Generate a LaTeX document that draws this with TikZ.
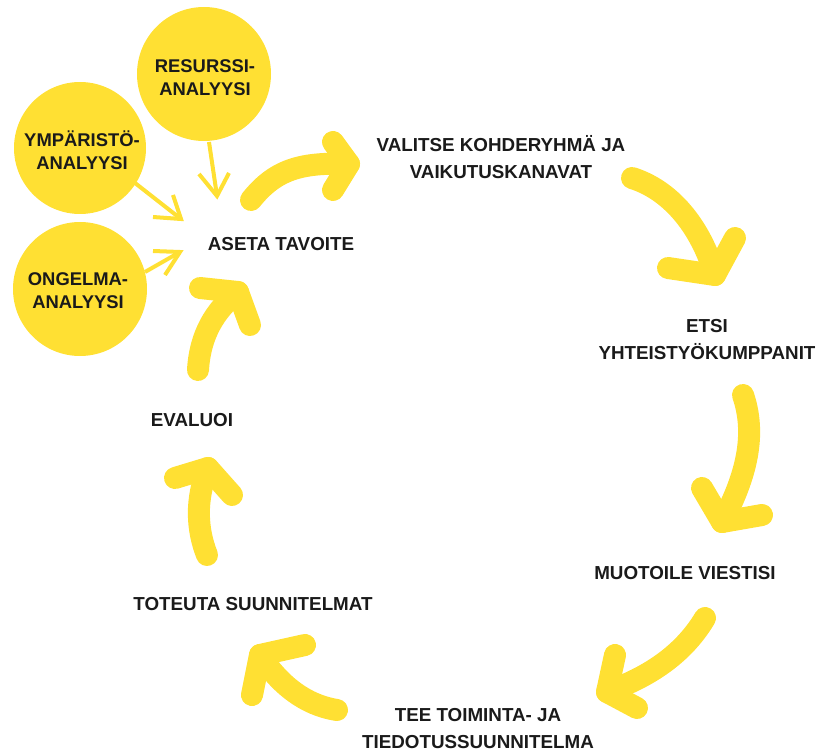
\documentclass[tikz,border=0pt]{standalone}
\usepackage{fontspec}
\setmainfont{Liberation Sans}
\definecolor{sun}{HTML}{FFE033}
\definecolor{ink}{HTML}{1A1A1A}
\begin{document}
\begin{tikzpicture}[x=1pt,y=-1pt,
  lbl/.style={font=\fontsize{18.8}{27}\selectfont\bfseries, text=ink, align=center, inner sep=0pt},
  clbl/.style={font=\fontsize{18.4}{23}\selectfont\bfseries, text=ink, align=center, inner sep=0pt},
  bubble/.style={circle, fill=sun, inner sep=0pt, minimum size=#1},
  bigarrow/.style={draw=sun, line width=22pt, line cap=round, line join=round},
  thinarrow/.style={draw=sun, line width=4pt, line join=miter}
]
\useasboundingbox (0,0) rectangle (830,751);

% analysis bubbles
\node[bubble=134pt] (resC) at (204,74) {};
\node[bubble=132pt] (ympC) at (80,148) {};
\node[bubble=134pt] (ongC) at (80,289) {};
\node[clbl] (resT) at (205,78) {RESURSSI-\\ANALYYSI};
\node[clbl] (ympT) at (82,150) {YMPÄRISTÖ-\\ANALYYSI};
\node[clbl] (ongT) at (78,291) {ONGELMA-\\ANALYYSI};

% step labels
\node[lbl] (aseta) at (281,244) {ASETA TAVOITE};
\node[lbl] (valitse) at (501,157) {VALITSE KOHDERYHMÄ JA\\VAIKUTUSKANAVAT};
\node[lbl] (etsi) at (707,340) {ETSI\\YHTEISTYÖKUMPPANIT};
\node[lbl] (muotoile) at (685,573) {MUOTOILE VIESTISI};
\node[lbl] (tee) at (478,729) {TEE TOIMINTA- JA\\TIEDOTUSSUUNNITELMA};
\node[lbl] (toteuta) at (253,604) {TOTEUTA SUUNNITELMAT};
\node[lbl] (evaluoi) at (192,420) {EVALUOI};

% thin arrows from bubbles
\coordinate (r0) at (209,142); \coordinate (r1) at (217,196);
\coordinate (ra) at (199,174); \coordinate (rb) at (229,173);
\draw[thinarrow] (r0) -- (r1);
\draw[thinarrow] (ra) -- (r1) -- (rb);

\coordinate (y0) at (135,183); \coordinate (y1) at (181,219);
\coordinate (ya) at (173,195); \coordinate (yb) at (153,217);
\draw[thinarrow] (y0) -- (y1);
\draw[thinarrow] (ya) -- (y1) -- (yb);

\coordinate (o0) at (145,272); \coordinate (o1) at (180,252);
\coordinate (oa) at (153,251); \coordinate (ob) at (165,275);
\draw[thinarrow] (o0) -- (o1);
\draw[thinarrow] (oa) -- (o1) -- (ob);

% cycle arrows
\coordinate (a1s) at (251,200); \coordinate (a1t) at (349,164);
\coordinate (a1a) at (333,142); \coordinate (a1b) at (333,190);
\draw[bigarrow] (a1s) .. controls (275,170) and (300,162) .. (a1t);
\draw[bigarrow] (a1a) -- (a1t) -- (a1b);

\coordinate (a2s) at (632,178); \coordinate (a2t) at (715,275);
\coordinate (a2a) at (668,268); \coordinate (a2b) at (735,238);
\draw[bigarrow] (a2s) .. controls (670,190) and (700,225) .. (a2t);
\draw[bigarrow] (a2a) -- (a2t) -- (a2b);

\coordinate (a3s) at (743,395); \coordinate (a3t) at (722,522);
\coordinate (a3a) at (702,488); \coordinate (a3b) at (762,515);
\draw[bigarrow] (a3s) .. controls (755,430) and (750,470) .. (a3t);
\draw[bigarrow] (a3a) -- (a3t) -- (a3b);

\coordinate (a4s) at (705,618); \coordinate (a4t) at (607,692);
\coordinate (a4a) at (615,655); \coordinate (a4b) at (637,708);
\draw[bigarrow] (a4s) .. controls (680,660) and (640,680) .. (a4t);
\draw[bigarrow] (a4a) -- (a4t) -- (a4b);

\coordinate (a5s) at (337,710); \coordinate (a5t) at (260,655);
\coordinate (a5a) at (305,645); \coordinate (a5b) at (252,695);
\draw[bigarrow] (a5s) .. controls (305,705) and (280,685) .. (a5t);
\draw[bigarrow] (a5a) -- (a5t) -- (a5b);

\coordinate (a6s) at (207,555); \coordinate (a6t) at (208,468);
\coordinate (a6a) at (175,478); \coordinate (a6b) at (232,495);
\draw[bigarrow] (a6s) .. controls (197,530) and (195,500) .. (a6t);
\draw[bigarrow] (a6a) -- (a6t) -- (a6b);

\coordinate (a7s) at (198,370); \coordinate (a7t) at (238,292);
\coordinate (a7a) at (200,288); \coordinate (a7b) at (250,325);
\draw[bigarrow] (a7s) .. controls (200,335) and (215,310) .. (a7t);
\draw[bigarrow] (a7a) -- (a7t) -- (a7b);
\end{tikzpicture}
\end{document}
